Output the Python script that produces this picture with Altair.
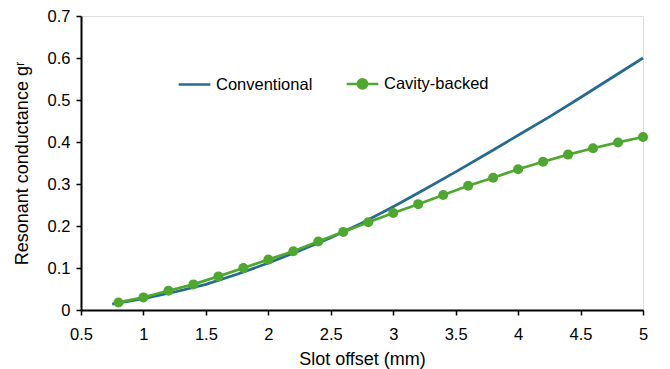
import altair as alt
import pandas as pd

conv_x = [0.75, 1.0, 1.25, 1.5, 1.75, 2.0, 2.25, 2.5, 2.75, 3.0, 3.25, 3.5, 3.75, 4.0, 4.25, 4.5, 4.75, 5.0]
conv_y = [0.014, 0.027, 0.043, 0.061, 0.085, 0.112, 0.141, 0.172, 0.207, 0.246, 0.287, 0.329, 0.372, 0.416, 0.460, 0.506, 0.553, 0.600]

cav_x = [0.8, 1.0, 1.2, 1.4, 1.6, 1.8, 2.0, 2.2, 2.4, 2.6, 2.8, 3.0, 3.2, 3.4, 3.6, 3.8, 4.0, 4.2, 4.4, 4.6, 4.8, 5.0]
cav_y = [0.018, 0.030, 0.046, 0.061, 0.080, 0.100, 0.120, 0.140, 0.163, 0.186, 0.209, 0.231, 0.252, 0.274, 0.296, 0.315, 0.335, 0.353, 0.370, 0.385, 0.399, 0.412]

series = ["Conventional", "Cavity-backed"]
colors = ["#246a91", "#4ea72e"]
x_ticks = [0.5, 1, 1.5, 2, 2.5, 3, 3.5, 4, 4.5, 5]
y_ticks = [0, 0.1, 0.2, 0.3, 0.4, 0.5, 0.6, 0.7]

df = pd.concat([
    pd.DataFrame({"x": conv_x, "y": conv_y, "series": series[0]}),
    pd.DataFrame({"x": cav_x, "y": cav_y, "series": series[1]}),
])
df_cav = df[df["series"] == series[1]]
df_empty = df[df["x"] > 100]

FONT = "Liberation Sans"

common_axis = dict(grid=False, labelFont=FONT, titleFont=FONT, labelColor="#000", titleColor="#000",
                   domainColor="#000", tickColor="#000", domainWidth=2, tickWidth=1.5, tickSize=5,
                   titleFontWeight="normal", labelFontSize=16.5, titleFontSize=18, format="~g")

xenc = alt.X("x:Q", scale=alt.Scale(domain=[0.5, 5], nice=False),
             axis=alt.Axis(values=x_ticks, title="Slot offset (mm)", labelPadding=11, titlePadding=8,
                           labelFlush=False, **common_axis))
yenc = alt.Y("y:Q", scale=alt.Scale(domain=[0, 0.7], nice=False),
             axis=alt.Axis(values=y_ticks, title="Resonant conductance gʳ", labelPadding=6,
                           titlePadding=16, **common_axis))

cav_path = "M-1,0L1,0M0.3,0A0.3,0.3,0,1,1,-0.3,0A0.3,0.3,0,1,1,0.3,0Z"

legend = alt.Legend(title=None, orient="none", legendX=96, legendY=50, direction="horizontal",
                    labelFontSize=16.5, labelFont=FONT, labelColor="#000", symbolSize=1000,
                    symbolStrokeWidth=2.5, columnPadding=28, labelOffset=4)
color = alt.Color("series:N", scale=alt.Scale(domain=series, range=colors), legend=legend)
shape = alt.Shape("series:N", scale=alt.Scale(domain=series, range=["stroke", cav_path]), legend=legend)

lines = alt.Chart(df).mark_line(strokeWidth=2.7).encode(x=xenc, y=yenc, color=color)
points = alt.Chart(df_cav).mark_circle(size=100, opacity=1).encode(x=xenc, y=yenc, color=color)
legend_layer = alt.Chart(df_empty).mark_point(filled=True, opacity=1).encode(
    x=xenc, y=yenc, color=color, shape=shape)

chart = alt.layer(lines, points, legend_layer).properties(
    width=562, height=294,
    autosize=alt.AutoSizeParams(type="none"),
    padding={"left": 81, "top": 16, "right": 27, "bottom": 59},
).configure_view(stroke=None).configure(background="white")

chart.save("out.html", embed_options={"renderer": "svg", "actions": False})
